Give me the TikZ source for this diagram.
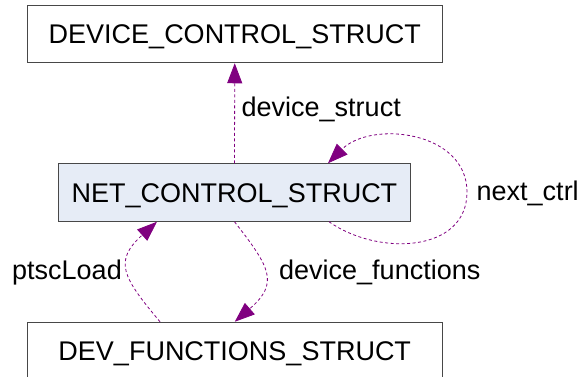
\documentclass[tikz,border=0pt]{standalone}
\usepackage{fontspec}
\setmainfont{Liberation Sans}
\usetikzlibrary{arrows.meta,calc}
\definecolor{edgepurple}{RGB}{128,0,128}
\definecolor{boxline}{RGB}{72,72,72}
\definecolor{boxfill}{RGB}{230,236,246}
\tikzset{
  structbox/.style={draw=boxline, line width=1pt, rectangle, inner sep=0pt,
    minimum height=57.5pt, text height=19.5pt, text depth=0pt,
    font=\fontsize{27}{30}\selectfont},
  rel/.style={draw=edgepurple, line width=0.8pt, dash pattern=on 3pt off 2.5pt,
    -{Triangle[length=20pt,width=15pt,fill=edgepurple]}},
  lbl/.style={anchor=base west, inner sep=0pt, font=\fontsize{27}{30}\selectfont}
}
\begin{document}
\begin{tikzpicture}[x=1pt,y=1pt]
\useasboundingbox (0,0) rectangle (579,-376);
\node[structbox, minimum width=414.5pt] (top) at (234.75,-34) {DEVICE\_CONTROL\_STRUCT};
\node[structbox, minimum width=352pt, fill=boxfill] (mid) at (234.5,-192.5) {NET\_CONTROL\_STRUCT};
\node[structbox, minimum width=414.5pt] (bot) at (234.75,-351) {DEV\_FUNCTIONS\_STRUCT};

\coordinate (ncs) at ($(mid.south east)+(-82,0)$);
\coordinate (nce) at ($(mid.north east)+(-83,0)$);
\coordinate (pls) at ($(bot.north west)+(133,0)$);
\coordinate (ple) at ($(mid.south west)+(99,0)$);

\draw[rel] (mid.north) -- (top.south);
\draw[rel] (ncs) to[out=-35,in=-90,looseness=1.1] (467,-192) to[out=90,in=45,looseness=1.1] (nce);
\draw[rel] (pls) to[out=130,in=-138,looseness=1.5] (ple);
\draw[rel] (mid.south) to[out=-52,in=41,looseness=1.5] (bot.north);

\node[lbl] (l1) at (241.5,-116.7) {device\_struct};
\node[lbl] (l2) at (476.5,-200) {next\_ctrl};
\node[lbl] (l3) at (12,-279.3) {ptscLoad};
\node[lbl] (l4) at (279,-279.3) {device\_functions};
\end{tikzpicture}
\end{document}
